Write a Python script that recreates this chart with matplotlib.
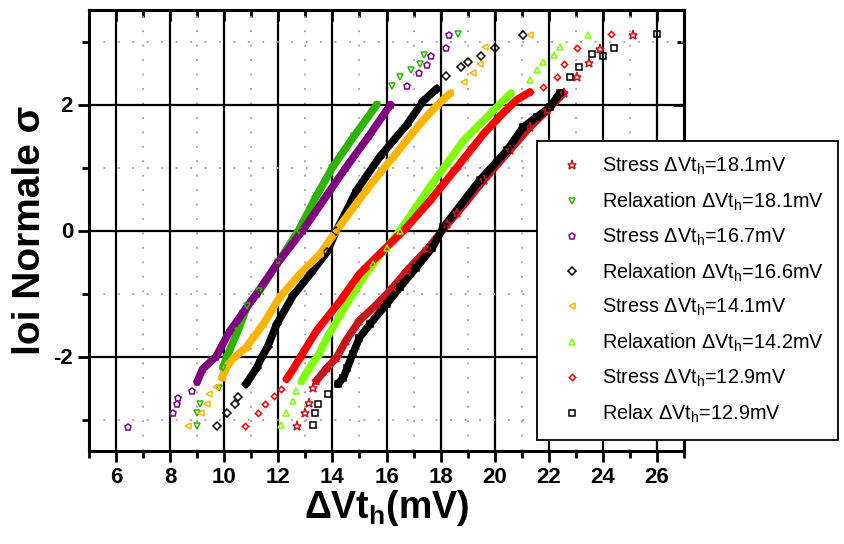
import numpy as np
import matplotlib
matplotlib.use('Agg')
import matplotlib.pyplot as plt
from matplotlib.lines import Line2D
from matplotlib.ticker import MultipleLocator

plt.rcParams['font.family'] = ['Liberation Sans', 'DejaVu Sans']
plt.rcParams['mathtext.fontset'] = 'custom'
plt.rcParams['mathtext.rm'] = 'Liberation Sans'
plt.rcParams['mathtext.bf'] = 'Liberation Sans:bold'
plt.rcParams['mathtext.it'] = 'Liberation Sans:italic'
plt.rcParams['axes.unicode_minus'] = False

# values (dVth in mV, sigma)
stress181_x = [12.7, 13.0, 13.15, 13.3, 13.4, 13.8, 14.15, 14.5, 15.0, 15.65, 16.25, 16.75, 17.5, 18.25,
               18.6, 19.6, 20.55, 21.3, 21.95, 22.55, 23.05, 23.5, 23.9, 25.1]
stress181_s = [-3.1, -2.9, -2.74, -2.5, -2.39, -2.18, -2.02, -1.75, -1.43, -1.17, -0.9, -0.64, -0.3, 0.1,
               0.27, 0.8, 1.27, 1.64, 1.91, 2.18, 2.44, 2.66, 2.88, 3.1]

relax181_x = [9.0, 8.98, 9.1, 9.8, 9.95, 10.1, 10.5, 10.85, 11.3, 12.0, 12.75, 13.35, 14.0, 14.8, 15.65,
              16.2, 16.5, 16.9, 17.25, 17.4, 18.65]
relax181_s = [-3.1, -2.9, -2.76, -2.5, -2.18, -2.0, -1.6, -1.2, -0.96, -0.5, 0.0, 0.5, 1.0, 1.5, 2.0,
              2.3, 2.44, 2.55, 2.65, 2.78, 3.12]

stress167_x = [6.46, 8.1, 8.25, 8.3, 8.8, 9.0, 9.2, 9.7, 10.2, 10.7, 11.2, 12.0, 12.9, 13.7, 14.5, 15.35,
               16.15, 16.75, 17.2, 17.5, 17.65, 18.2, 18.3]
stress167_s = [-3.12, -2.9, -2.75, -2.66, -2.55, -2.4, -2.2, -2.0, -1.6, -1.3, -1.0, -0.5, 0.0, 0.5, 1.0, 1.5,
               2.0, 2.3, 2.5, 2.63, 2.77, 2.9, 3.1]

relax166_x = [9.75, 10.1, 10.4, 10.5, 10.8, 11.2, 11.4, 11.6, 11.95, 12.55, 13.2, 13.8, 14.15, 14.9, 15.75,
              16.75, 17.35, 17.85, 18.2, 18.75, 19.0, 19.5, 20.0, 21.05]
relax166_s = [-3.1, -2.9, -2.76, -2.65, -2.44, -2.18, -2.0, -1.85, -1.48, -1.03, -0.68, -0.34, 0.0, 0.64, 1.17,
              1.68, 2.05, 2.25, 2.45, 2.6, 2.68, 2.77, 2.9, 3.1]

stress141_x = [8.65, 9.15, 9.35, 9.45, 9.7, 9.9, 10.2, 10.8, 11.45, 12.05, 12.8, 13.55, 14.15, 15.25, 16.25,
               17.25, 17.85, 18.35, 18.85, 19.2, 19.45, 19.65, 21.3]
stress141_s = [-3.1, -2.9, -2.76, -2.6, -2.48, -2.34, -2.08, -1.86, -1.48, -1.06, -0.69, -0.37, 0.0, 0.64, 1.17,
               1.7, 1.98, 2.18, 2.36, 2.5, 2.64, 2.92, 3.1]

relax142_x = [12.1, 12.3, 12.55, 12.67, 12.85, 13.15, 13.5, 13.8, 14.3, 14.9, 15.5, 16.0, 16.5, 17.6, 18.85,
              19.85, 20.6, 21.3, 21.55, 21.8, 22.2, 22.4, 23.45]
relax142_s = [-3.08, -2.9, -2.7, -2.55, -2.39, -2.18, -1.96, -1.7, -1.33, -0.9, -0.53, -0.27, 0.0, 0.69, 1.43,
              1.86, 2.18, 2.39, 2.55, 2.67, 2.79, 2.92, 3.1]

stress129_x = [10.75, 11.25, 11.5, 11.85, 12.1, 12.3, 12.55, 12.8, 13.4, 14.3, 15.0, 15.75, 16.7, 17.6, 18.6,
               19.6, 20.3, 20.8, 21.3, 21.8, 22.3, 22.55, 23.05, 24.3]
stress129_s = [-3.1, -2.9, -2.76, -2.62, -2.52, -2.36, -2.2, -2.02, -1.6, -1.11, -0.69, -0.37, 0.03, 0.47, 1.0,
               1.54, 1.86, 2.07, 2.2, 2.28, 2.44, 2.64, 2.9, 3.12]

relax129_x = [13.3, 13.35, 13.47, 13.85, 14.2, 14.4, 14.55, 14.75, 15.0, 15.4, 16.0, 16.5, 17.1, 17.7, 18.1,
              19.45, 20.45, 21.05, 21.55, 22.05, 22.4, 22.8, 23.1, 23.6, 24.0, 24.4, 26.0]
relax129_s = [-3.08, -2.9, -2.76, -2.6, -2.44, -2.34, -2.18, -1.96, -1.7, -1.48, -1.17, -0.9, -0.59, -0.27, 0.05,
              0.8, 1.27, 1.64, 1.8, 1.96, 2.18, 2.44, 2.6, 2.8, 2.77, 2.9, 3.12]

labels = ['Stress ΔVt$_\\mathrm{h}$=18.1mV', 'Relaxation ΔVt$_\\mathrm{h}$=18.1mV',
          'Stress ΔVt$_\\mathrm{h}$=16.7mV', 'Relaxation ΔVt$_\\mathrm{h}$=16.6mV',
          'Stress ΔVt$_\\mathrm{h}$=14.1mV', 'Relaxation ΔVt$_\\mathrm{h}$=14.2mV',
          'Stress ΔVt$_\\mathrm{h}$=12.9mV', 'Relax ΔVt$_\\mathrm{h}$=12.9mV']
colors = ['#C8161D', '#2DB400', '#800080', 'black', '#FFB400', '#80FF00', '#FF0000', 'black']
markers = ['*', 'v', 'p', 'D', '<', '^', 'D', 's']
msizes = [6.5, 5, 5, 4, 5, 5, 3.2, 4]

series = [(stress181_x, stress181_s), (relax181_x, relax181_s), (stress167_x, stress167_s),
          (relax166_x, relax166_s), (stress141_x, stress141_s), (relax142_x, relax142_s),
          (stress129_x, stress129_s), (relax129_x, relax129_s)]

fig = plt.figure(figsize=(8.44, 5.44), dpi=100)
ax = fig.add_axes([89 / 844, 1 - 451 / 544, 595 / 844, 441 / 544])

# dense middle part drawn as a thick band, every point as an open marker
for (x, s), c, m, ms in zip(series, colors, markers, msizes):
    x = np.array(x)
    s = np.array(s)
    band = (s >= -2.45) & (s <= 2.25)
    ax.plot(x[band], s[band], color=c, lw=5.5, solid_capstyle='round', solid_joinstyle='round', zorder=3)
    ax.plot(x, s, ls='none', marker=m, ms=ms, mfc='none', mec=c, mew=1.1, zorder=4)

ax.set_xlim(5, 27)
ax.set_ylim(-3.5, 3.5)
ax.set_xticks(range(6, 27, 2))
ax.xaxis.set_minor_locator(MultipleLocator(1))
ax.set_yticks([-2, 0, 2])
ax.set_yticks([-3, -1, 1, 3], minor=True)

ax.grid(which='major', color='black', lw=1.6, ls='-')
ax.grid(which='minor', color='#a0a0a0', lw=1.3, ls=(0, (1, 7)))
ax.set_axisbelow(True)

for sp in ax.spines.values():
    sp.set_linewidth(2.2)

ax.tick_params(axis='both', which='major', direction='out', length=8, width=2, labelsize=16)
ax.tick_params(axis='both', which='minor', direction='out', length=5, width=2)
for lab in ax.get_xticklabels() + ax.get_yticklabels():
    lab.set_fontweight('bold')

top = ax.secondary_xaxis('top')
top.set_xticks(range(6, 27, 2))
top.xaxis.set_minor_locator(MultipleLocator(1))
top.tick_params(which='major', direction='in', length=8, width=2, labelsize=0, labeltop=False)
top.tick_params(which='minor', direction='in', length=5, width=2)
top.spines['top'].set_linewidth(2.2)

right = ax.secondary_yaxis('right')
right.set_yticks([-2, 0, 2])
right.set_yticks([-3, -1, 1, 3], minor=True)
right.tick_params(which='major', direction='in', length=8, width=2, labelright=False)
right.tick_params(which='minor', direction='in', length=5, width=2)
right.spines['right'].set_linewidth(2.2)

ax.set_xlabel('ΔVt$_\\mathbf{h}$(mV)', fontsize=27, fontweight='bold', labelpad=0)
ax.set_ylabel('loi Normale σ', fontsize=28, fontweight='bold', labelpad=4)

handles = [Line2D([], [], ls='none', marker=m, ms=ms, mfc='none', mec=c, mew=1.1)
           for c, m, ms in zip(colors, markers, msizes)]
leg = fig.legend(handles, labels, loc='upper left', bbox_to_anchor=(537 / 844, 1 - 141 / 544),
                 bbox_transform=fig.transFigure, borderaxespad=0, fontsize=14.3, frameon=True,
                 fancybox=False, edgecolor='black', framealpha=1, borderpad=0.75, handlelength=2.0,
                 handletextpad=0.5, labelspacing=0.68)
leg.get_frame().set_linewidth(1.3)

fig.savefig('out.png', dpi=100)
